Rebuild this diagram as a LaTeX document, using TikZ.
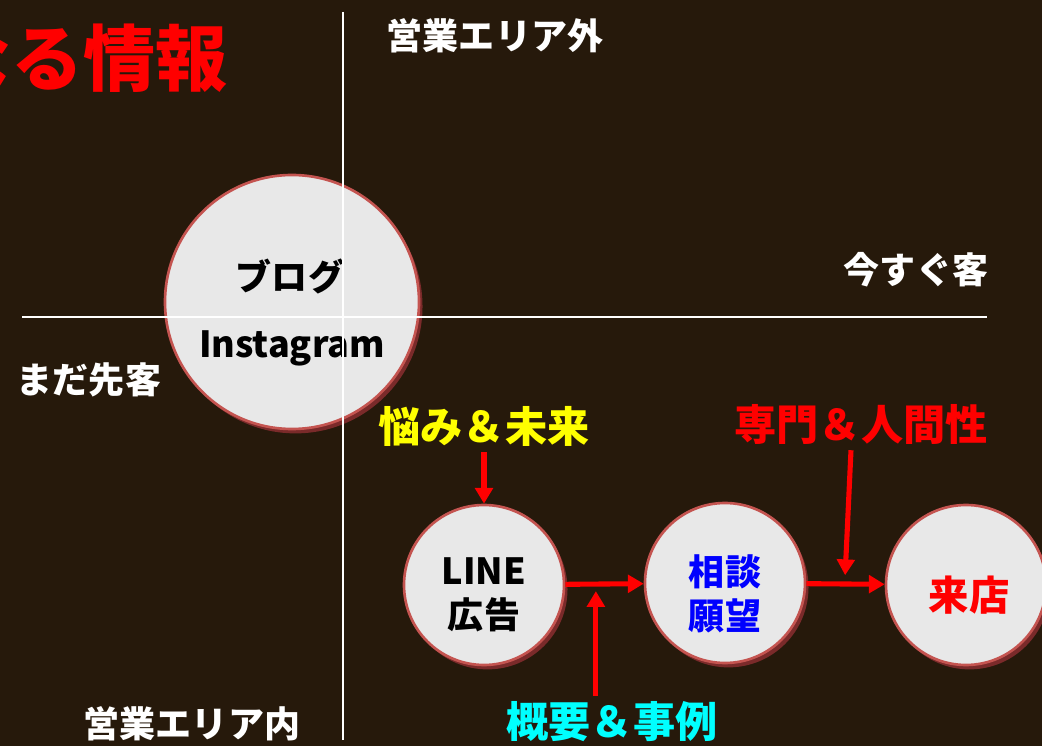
\documentclass[tikz,border=0pt]{standalone}
\usepackage{fontspec}
\setmainfont{Noto Sans CJK JP}
\usetikzlibrary{positioning, arrows.meta, shadows}
\definecolor{bgbrown}{RGB}{38,25,11}
\definecolor{rimred}{RGB}{196,84,80}
\definecolor{shadered}{RGB}{122,42,42}
\definecolor{discgray}{RGB}{232,232,232}
\definecolor{pured}{RGB}{255,0,0}
\definecolor{pureblue}{RGB}{0,0,255}
\definecolor{purecyan}{RGB}{0,255,255}
\definecolor{pureyellow}{RGB}{255,255,0}

\begin{document}
\begin{tikzpicture}[x=0.02cm, y=-0.02cm,
    disc/.style={draw=rimred, line width=1.5pt, fill=discgray, circle, inner sep=0pt,
      drop shadow={shadow xshift=2pt, shadow yshift=-2.5pt, fill=shadered, opacity=1}},
    disctext/.style={align=center, font=\fontsize{20.5}{25}\selectfont\bfseries},
    axis/.style={white, line width=0.9pt},
    area/.style={text=white, font=\fontsize{20.5}{24}\selectfont\bfseries},
    hint/.style={font=\fontsize{24}{28}\selectfont\bfseries},
    arr/.style={pured, line width=2.9pt, -{Triangle[length=9pt,width=10pt]}}]
			\fill[bgbrown] (0,0) rectangle (1042,746);
			\useasboundingbox (0,0) rectangle (1042,746);
			\clip (0,0) rectangle (1042,746);
			\node[anchor=east, text=pured, font=\fontsize{41}{46}\selectfont\bfseries] (title) at (234,58) {なる情報};
			% big disc first, the axes go over it
			\node[disc, minimum size=254*0.02cm] (blog) at (292,302) {};
			\node[disctext] (blog text) at (290,276) {ブログ};
			\node[disctext] (insta text) at (292,348) {Instagram};
			\draw[axis] (343,12) -- (343,740);
			\draw[axis] (22,317) -- (987,317);
			\node[area] (outside) at (495,36) {営業エリア外};
			\node[area] (inside) at (192,724) {営業エリア内};
			\node[area] (now) at (916,270) {今すぐ客};
			\node[area] (later) at (89,380) {まだ先客};
			% funnel
			\node[disc, minimum size=160*0.02cm] (line) at (484,585) {};
			\node[disc, minimum size=160*0.02cm] (consult) at (725,583) {};
			\node[disc, minimum size=160*0.02cm] (visit) at (966,585) {};
			\node[disctext] (line text) at ([yshift=-10*0.02cm]line) {LINE\\[0pt]広告};
			\node[disctext, text=pureblue] (consult text) at ([yshift=-11*0.02cm]consult) {相談\\[0pt]願望};
			\node[disctext, text=pured, font=\fontsize{23}{26}\selectfont\bfseries] (visit text) at ([xshift=3*0.02cm, yshift=-10*0.02cm]visit) {来店};
			\node[hint, text=pureyellow] (worry) at (484,426) {悩み＆未来};
			\node[hint, text=purecyan] (cases) at (612,722) {概要＆事例};
			\node[hint, text=pured] (expert) at (861,424) {専門＆人間性};
			\draw[arr] (line) -- coordinate[pos=0.39] (m1) (consult);
			\draw[arr] (consult) -- coordinate[pos=0.49] (m2) (visit);
			\draw[arr] (worry) -- (line);
			\draw[arr, shorten >=4pt] (cases.north -| m1) -- (m1);
			\draw[arr, shorten >=5pt] ([xshift=-10*0.02cm]expert.south) -- (m2);
		\end{tikzpicture}
\end{document}
